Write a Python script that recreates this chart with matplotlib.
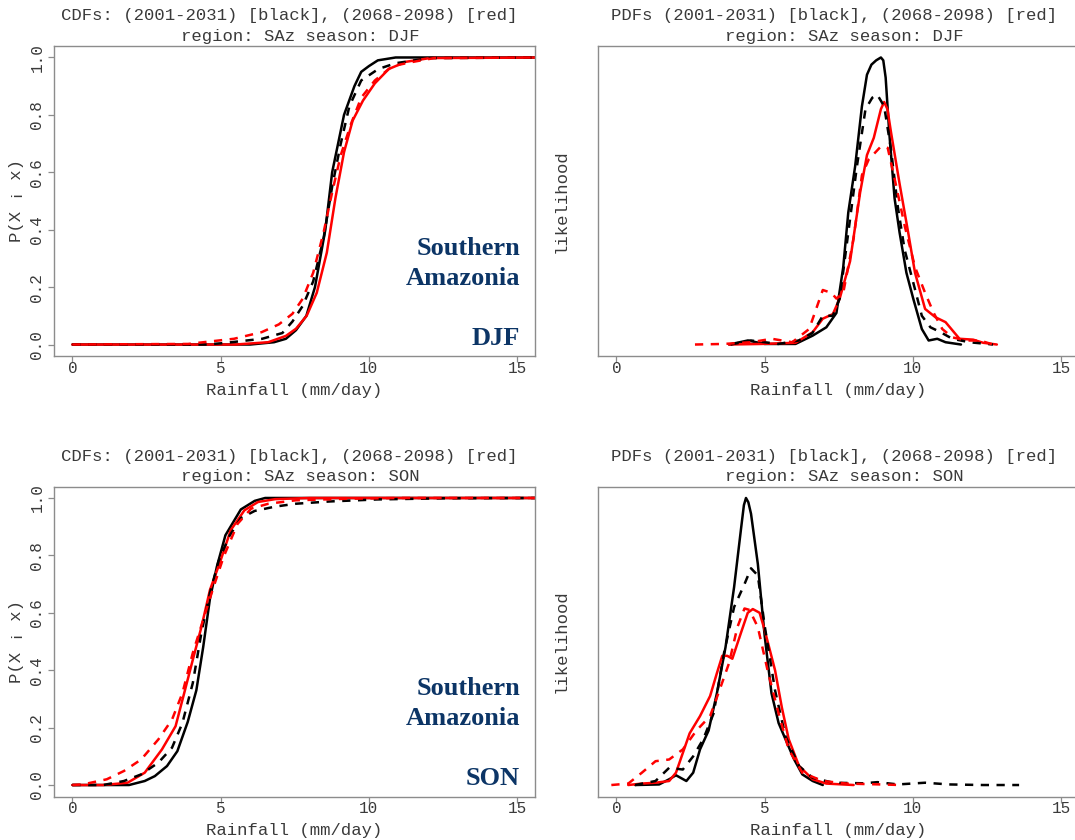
import matplotlib
matplotlib.use("Agg")
import matplotlib.pyplot as plt

plt.rcParams["font.family"] = ["Liberation Mono", "DejaVu Sans Mono"]

TEXT = "#3a3a3a"
FRAME = "#8c8c8c"
NAVY = "#0c3566"

# ---- CDFs, DJF (mm/day, cumulative probability) ----
cdf_djf_black_x = [0, 6.0, 6.8, 7.2, 7.54, 7.89, 8.18, 8.53, 8.76, 9.16, 9.51, 9.74, 10.0, 10.3, 10.9, 16]
cdf_djf_black_y = [0, 0, 0.008, 0.02, 0.05, 0.10, 0.20, 0.40, 0.60, 0.80, 0.90, 0.95, 0.97, 0.99, 1.0, 1.0]
cdf_djf_black_d_x = [0, 4.5, 5.1, 6.4, 7.08, 7.42, 7.77, 8.12, 8.47, 8.76, 9.05, 9.34, 9.74, 10.32, 10.9, 12.06, 16]
cdf_djf_black_d_y = [0, 0, 0.005, 0.02, 0.04, 0.08, 0.135, 0.22, 0.37, 0.55, 0.70, 0.83, 0.92, 0.96, 0.98, 0.998, 1.0]
cdf_djf_red_x = [0, 5.5, 6.6, 7.2, 7.54, 7.9, 8.24, 8.58, 8.87, 9.16, 9.45, 9.8, 10.2, 10.67, 11.25, 12.06, 16]
cdf_djf_red_y = [0, 0, 0.008, 0.03, 0.055, 0.10, 0.18, 0.32, 0.51, 0.67, 0.78, 0.85, 0.91, 0.96, 0.985, 0.998, 1.0]
cdf_djf_red_d_x = [0, 3.9, 5.45, 6.38, 6.96, 7.42, 7.77, 8.12, 8.47, 8.76, 9.05, 9.4, 9.74, 10.2, 10.79, 11.5, 12.2, 16]
cdf_djf_red_d_y = [0, 0.002, 0.02, 0.043, 0.07, 0.107, 0.16, 0.25, 0.39, 0.53, 0.66, 0.77, 0.86, 0.92, 0.97, 0.985, 0.998, 1.0]

# ---- CDFs, SON ----
cdf_son_black_x = [0, 1.91, 2.44, 2.78, 3.19, 3.54, 3.89, 4.18, 4.41, 4.64, 4.87, 5.16, 5.68, 6.15, 6.5, 16]
cdf_son_black_y = [0, 0, 0.014, 0.031, 0.066, 0.118, 0.22, 0.33, 0.48, 0.65, 0.76, 0.87, 0.96, 0.99, 1.0, 1.0]
cdf_son_black_d_x = [0, 1.04, 1.74, 2.32, 2.9, 3.36, 3.71, 4.06, 4.35, 4.64, 4.93, 5.28, 5.68, 6.15, 6.84, 7.54, 8.7, 10.3, 12.6, 16]
cdf_son_black_d_y = [0, 0, 0.014, 0.037, 0.078, 0.13, 0.216, 0.355, 0.53, 0.67, 0.78, 0.865, 0.93, 0.955, 0.97, 0.98, 0.988, 0.995, 0.999, 1.0]
cdf_son_red_x = [0, 1.04, 1.86, 2.44, 3.02, 3.48, 3.77, 4.06, 4.35, 4.64, 4.99, 5.34, 5.8, 6.26, 6.84, 8.0, 16]
cdf_son_red_y = [0, 0, 0.008, 0.043, 0.124, 0.205, 0.32, 0.436, 0.55, 0.68, 0.78, 0.888, 0.957, 0.986, 0.996, 1.0, 1.0]
cdf_son_red_d_x = [0, 0.35, 1.16, 1.74, 2.32, 2.9, 3.36, 3.71, 4.06, 4.41, 4.76, 5.1, 5.57, 6.03, 6.61, 7.54, 9.16, 11.0, 16]
cdf_son_red_d_y = [0, 0.002, 0.02, 0.049, 0.089, 0.159, 0.228, 0.32, 0.46, 0.575, 0.69, 0.795, 0.91, 0.963, 0.98, 0.992, 0.997, 1.0, 1.0]

# ---- PDFs, DJF (likelihood scaled to the tallest curve) ----
pdf_djf_black_x = [3.8, 4.43, 5.0, 6.04, 6.62, 7.08, 7.42, 7.65, 7.82, 8.05, 8.28, 8.45, 8.6, 8.76, 8.92, 9.0, 9.08, 9.2, 9.38, 9.55, 9.78, 10.01, 10.3, 10.53, 10.82, 11.1, 11.62]
pdf_djf_black_y = [0, 0.014, 0.002, 0.002, 0.031, 0.06, 0.11, 0.27, 0.46, 0.62, 0.83, 0.94, 0.975, 0.99, 1.0, 0.99, 0.93, 0.74, 0.51, 0.39, 0.25, 0.16, 0.054, 0.014, 0.02, 0.008, 0]
pdf_djf_black_d_x = [3.85, 4.54, 5.46, 6.15, 6.61, 6.96, 7.3, 7.53, 7.82, 8.11, 8.4, 8.63, 8.8, 9.03, 9.26, 9.49, 9.72, 10.01, 10.3, 10.59, 10.93, 11.33, 11.9, 12.7]
pdf_djf_black_d_y = [0, 0.014, 0.002, 0.014, 0.04, 0.10, 0.10, 0.16, 0.39, 0.62, 0.82, 0.86, 0.87, 0.83, 0.68, 0.48, 0.33, 0.216, 0.1, 0.06, 0.043, 0.02, 0.008, 0]
pdf_djf_red_x = [3.8, 4.89, 6.04, 6.62, 6.96, 7.3, 7.53, 7.88, 8.22, 8.45, 8.68, 8.92, 9.03, 9.14, 9.26, 9.55, 9.84, 10.07, 10.41, 10.76, 11.1, 11.57, 12.03, 12.37, 12.83]
pdf_djf_red_y = [0, 0.002, 0.006, 0.043, 0.09, 0.106, 0.16, 0.29, 0.53, 0.66, 0.72, 0.82, 0.845, 0.82, 0.74, 0.56, 0.39, 0.25, 0.124, 0.095, 0.078, 0.02, 0.017, 0.006, 0]
pdf_djf_red_d_x = [2.65, 3.62, 4.54, 5.24, 5.93, 6.5, 6.96, 7.25, 7.42, 7.65, 8.0, 8.28, 8.51, 8.92, 9.15, 9.44, 9.73, 10.07, 10.41, 10.7, 10.99, 11.33, 11.8, 12.26, 12.7]
pdf_djf_red_d_y = [0, 0.002, 0.008, 0.02, 0.008, 0.054, 0.19, 0.18, 0.16, 0.18, 0.37, 0.59, 0.645, 0.69, 0.685, 0.55, 0.41, 0.27, 0.18, 0.11, 0.054, 0.025, 0.014, 0.014, 0]

# ---- PDFs, SON ----
pdf_son_black_x = [0.63, 1.44, 1.78, 2.01, 2.36, 2.59, 2.82, 3.11, 3.39, 3.68, 3.97, 4.2, 4.3, 4.37, 4.45, 4.54, 4.77, 5.0, 5.23, 5.47, 5.7, 5.99, 6.27, 6.62, 6.96]
pdf_son_black_y = [0, 0.002, 0.02, 0.034, 0.014, 0.043, 0.124, 0.19, 0.32, 0.48, 0.69, 0.89, 0.975, 1.0, 0.985, 0.945, 0.77, 0.52, 0.32, 0.216, 0.16, 0.09, 0.037, 0.014, 0]
pdf_son_black_d_x = [0.63, 1.32, 1.78, 2.24, 2.59, 2.93, 3.28, 3.63, 3.97, 4.32, 4.54, 4.77, 5.0, 5.35, 5.7, 6.16, 6.62, 7.31, 8.34, 8.8, 9.49, 10.41, 11.22, 12.37, 13.58]
pdf_son_black_d_y = [0, 0.014, 0.06, 0.054, 0.1, 0.16, 0.25, 0.46, 0.62, 0.70, 0.755, 0.73, 0.555, 0.33, 0.17, 0.066, 0.025, 0.008, 0.006, 0.01, 0.002, 0.008, 0.002, 0, 0]
pdf_son_red_x = [0.4, 0.86, 1.32, 1.78, 2.01, 2.47, 2.82, 3.16, 3.39, 3.57, 3.74, 3.91, 4.2, 4.43, 4.6, 4.83, 5.0, 5.35, 5.58, 5.81, 6.16, 6.62, 7.08, 8.0]
pdf_son_red_y = [0, 0.005, 0.008, 0.014, 0.043, 0.18, 0.24, 0.31, 0.39, 0.45, 0.45, 0.44, 0.53, 0.60, 0.613, 0.60, 0.54, 0.40, 0.27, 0.16, 0.066, 0.02, 0.005, 0]
pdf_son_red_d_x = [-0.17, 0.4, 0.86, 1.32, 1.78, 2.24, 2.7, 3.16, 3.51, 3.8, 4.08, 4.32, 4.49, 4.77, 5.12, 5.47, 5.81, 6.27, 6.96, 7.77, 8.92, 9.61]
pdf_son_red_d_y = [0, 0.005, 0.043, 0.083, 0.089, 0.124, 0.19, 0.24, 0.34, 0.425, 0.55, 0.615, 0.61, 0.55, 0.39, 0.25, 0.124, 0.043, 0.014, 0.005, 0.002, 0]

x_ticks = [0, 5, 10, 15]
y_ticks = [0.0, 0.2, 0.4, 0.6, 0.8, 1.0]
y_tick_labels = ["0.0", "0.2", "0.4", "0.6", "0.8", "1.0"]

cdf_title = "CDFs: (2001-2031) [black], (2068-2098) [red]"
pdf_title = "PDFs (2001-2031) [black], (2068-2098) [red]"
region = "SAz"
seasons = ["DJF", "SON"]

W, H = 1075, 840
fig = plt.figure(figsize=(W / 100, H / 100), dpi=100)


def add_panel(left_px, top_px):
    return fig.add_axes([left_px / W, 1 - (top_px + 310) / H, 481 / W, 310 / H])


def style_panel(ax, title, season, ylabel, with_yticks):
    ax.set_xlim(-0.62, 15.6)
    ax.set_ylim(-0.04, 1.04)
    for sp in ax.spines.values():
        sp.set_color(FRAME)
        sp.set_linewidth(1.0)
    ax.set_xticks(x_ticks)
    ax.set_xticklabels([str(t) for t in x_ticks])
    ax.tick_params(axis="x", length=4.3, width=0.9, color=FRAME, pad=4.5,
                   labelsize=11.5, labelcolor=TEXT)
    for lab in ax.get_xticklabels():
        lab.set_va("center")
    if with_yticks:
        ax.set_yticks(y_ticks)
        ax.set_yticklabels(y_tick_labels, rotation=90)
        ax.tick_params(axis="y", length=4.3, width=0.9, color=FRAME, pad=8,
                       labelsize=11.5, labelcolor=TEXT)
        for lab in ax.get_yticklabels():
            lab.set_ha("center")
            lab.set_va("center")
    else:
        ax.set_yticks([])
    ax.text(0.49, 1.097, title, transform=ax.transAxes, ha="center", va="center",
            fontsize=12.4, color=TEXT)
    ax.text(0.513, 1.032, f"region: {region} season: {season}", transform=ax.transAxes,
            ha="center", va="center", fontsize=12.4, color=TEXT)
    ax.text(0.5, -0.11, "Rainfall (mm/day)", transform=ax.transAxes,
            ha="center", va="center", fontsize=12.4, color=TEXT)
    ax.text(-0.077, 0.5, ylabel, transform=ax.transAxes, rotation=90,
            ha="center", va="center", fontsize=12.4, color=TEXT)


def draw_curves(ax, bx, by, rx, ry, bdx, bdy, rdx, rdy):
    kw = dict(lw=1.8, solid_capstyle="round", solid_joinstyle="round")
    dkw = dict(lw=1.8, dashes=(3.3, 3.0), dash_capstyle="butt")
    ax.plot(bx, by, color="black", **kw)
    ax.plot(rx, ry, color="red", **kw)
    ax.plot(bdx, bdy, color="black", **dkw)
    ax.plot(rdx, rdy, color="red", **dkw)


def label_region(ax, season):
    font = dict(family=["Liberation Serif", "DejaVu Serif"], fontweight="bold",
                fontsize=19, color=NAVY, ha="right", va="baseline")
    ax.text(15.1, 0.312, "Southern", **font)
    ax.text(15.1, 0.208, "Amazonia", **font)
    ax.text(15.1, 0.0, season, **font)


cdf_data = [
    (cdf_djf_black_x, cdf_djf_black_y, cdf_djf_red_x, cdf_djf_red_y,
     cdf_djf_black_d_x, cdf_djf_black_d_y, cdf_djf_red_d_x, cdf_djf_red_d_y),
    (cdf_son_black_x, cdf_son_black_y, cdf_son_red_x, cdf_son_red_y,
     cdf_son_black_d_x, cdf_son_black_d_y, cdf_son_red_d_x, cdf_son_red_d_y),
]
pdf_data = [
    (pdf_djf_black_x, pdf_djf_black_y, pdf_djf_red_x, pdf_djf_red_y,
     pdf_djf_black_d_x, pdf_djf_black_d_y, pdf_djf_red_d_x, pdf_djf_red_d_y),
    (pdf_son_black_x, pdf_son_black_y, pdf_son_red_x, pdf_son_red_y,
     pdf_son_black_d_x, pdf_son_black_d_y, pdf_son_red_d_x, pdf_son_red_d_y),
]

for row, (season, top) in enumerate(zip(seasons, [46, 486.5])):
    ax_cdf = add_panel(54, top)
    draw_curves(ax_cdf, *cdf_data[row])
    style_panel(ax_cdf, cdf_title, season, "P(X \u00a1 x)", True)
    label_region(ax_cdf, season)

    ax_pdf = add_panel(598, top)
    draw_curves(ax_pdf, *pdf_data[row])
    style_panel(ax_pdf, pdf_title, season, "likelihood", False)

fig.savefig("out.png", dpi=100, facecolor="white")
